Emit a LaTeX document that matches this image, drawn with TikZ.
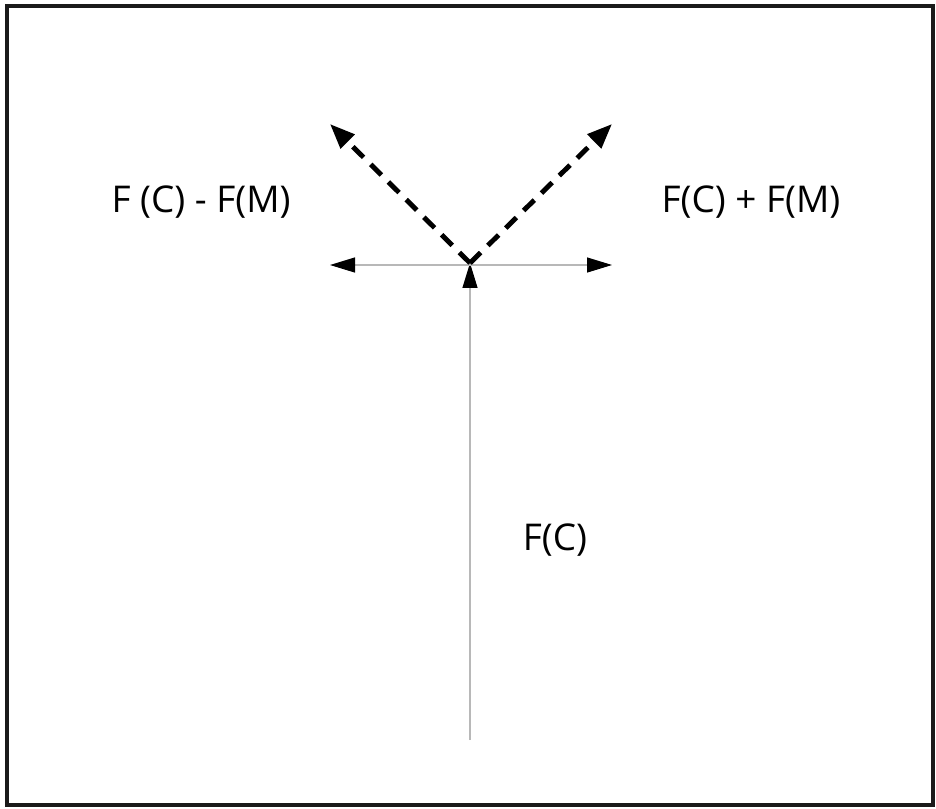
\documentclass[tikz,border=0pt]{standalone}
\usepackage{fontspec}
\setmainfont{Open Sans}
\usepackage{tikz}
\usepackage{xcolor}
\usetikzlibrary{arrows.meta,positioning}
\definecolor{Frame}{HTML}{1A1A1A}
\definecolor{Shaft}{HTML}{B8B8B8}
\tikzset{
    every node/.style={font=\fontsize{21}{25}\selectfont},
    framebox/.style={
        draw=Frame, line width=1.9pt
    },
    forcearrow/.style={
        -{Triangle[length=0.5cm, width=0.3cm, color=black]}, line width=0.7pt, color=Shaft
    },
    sumarrow/.style={
        -{Triangle[length=0.5cm, width=0.38cm]}, line width=2.8pt, color=black,
        dash pattern=on 0.3cm off 0.2cm
    },
    forcelabel/.style={
        text=black, inner sep=0pt
    },
}
\begin{document}
\begin{tikzpicture}[x=0.02cm, y=-0.02cm]
    \useasboundingbox (0,0) rectangle (936,808);
    % Frame
    \draw[framebox] (7,6) rectangle (933,805);

    % Points
    \coordinate (origin) at (470,263);
    \coordinate (base) at (470,740);
    \coordinate (left) at (330,265);
    \coordinate (right) at (612,265);
    \coordinate (minus) at (330,124);
    \coordinate (plus) at (612,124);

    % F(C) and the two side forces
    \draw[forcearrow] (base) -- (origin);
    \draw[forcearrow] (origin |- left) -- (left);
    \draw[forcearrow] (origin |- right) -- (right);

    % Resultants
    \draw[sumarrow] (origin) -- (minus);
    \draw[sumarrow] (origin) -- (plus);

    % Labels
    \node[forcelabel] (lminus) at (201,202) {F (C) - F(M)};
    \node[forcelabel] (lplus) at (751,202) {F(C) + F(M)};
    \node[forcelabel] (lfc) at (555,540) {F(C)};
\end{tikzpicture}
\end{document}
